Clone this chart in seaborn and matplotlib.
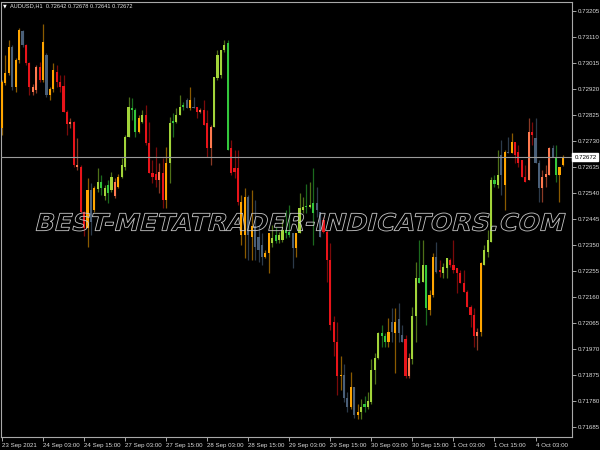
import numpy as np
import pandas as pd
import matplotlib
matplotlib.use("Agg")
import matplotlib.pyplot as plt
import seaborn as sns
from matplotlib.textpath import TextPath
from matplotlib.patches import PathPatch
from matplotlib.font_manager import FontProperties
from matplotlib.transforms import Affine2D, IdentityTransform, blended_transform_factory

symbol = "AUDUSD,H1"
watermark = "BEST-METATRADER-INDICATORS.COM"

opens = [
    0.72778, 0.72942, 0.72979, 0.73074, 0.72928, 0.73026, 0.73132, 0.73081, 0.73015, 0.72928,
    0.72917, 0.73001, 0.72953, 0.73045, 0.72899, 0.72921, 0.72983, 0.72946, 0.72932, 0.72837,
    0.72793, 0.72800, 0.72644, 0.72636, 0.72472, 0.72414, 0.72552, 0.72480, 0.72556, 0.72582,
    0.72560, 0.72542, 0.72552, 0.72582, 0.72563, 0.72600, 0.72636, 0.72746, 0.72851, 0.72844,
    0.72764, 0.72800, 0.72826, 0.72724, 0.72614, 0.72611, 0.72589, 0.72614, 0.72516, 0.72651,
    0.72797, 0.72800, 0.72826, 0.72855, 0.72880, 0.72851, 0.72855, 0.72855, 0.72837, 0.72844,
    0.72797, 0.72706, 0.72782, 0.72961, 0.72972, 0.73063, 0.73088, 0.72706, 0.72618, 0.72633,
    0.72509, 0.72388, 0.72527, 0.72381, 0.72421, 0.72381, 0.72352, 0.72308, 0.72323, 0.72377,
    0.72367, 0.72370, 0.72370, 0.72396, 0.72388, 0.72396, 0.72341, 0.72396, 0.72480, 0.72490,
    0.72490, 0.72469, 0.72505, 0.72472, 0.72443, 0.72399, 0.72297, 0.72068, 0.71995, 0.71871,
    0.71878, 0.71794, 0.71758, 0.71831, 0.71732, 0.71740, 0.71761, 0.71758, 0.71776, 0.71896,
    0.71940, 0.72031, 0.72017, 0.71998, 0.72035, 0.72071, 0.72031, 0.72024, 0.72006, 0.71871,
    0.71933, 0.72090, 0.72232, 0.72217, 0.72279, 0.72115, 0.72170, 0.72308, 0.72254, 0.72250,
    0.72268, 0.72297, 0.72279, 0.72268, 0.72250, 0.72213, 0.72181, 0.72126, 0.72097, 0.72017,
    0.72035, 0.72279, 0.72326, 0.72363, 0.72574, 0.72571, 0.72607, 0.72571, 0.72691, 0.72687,
    0.72727, 0.72691, 0.72662, 0.72600, 0.72589, 0.72764, 0.72742, 0.72651, 0.72560, 0.72600,
    0.72607, 0.72706, 0.72672, 0.72607, 0.72642,
]
highs = [
    0.72953, 0.73045, 0.73099, 0.73081, 0.73034, 0.73143, 0.73136, 0.73085, 0.73019, 0.72939,
    0.73008, 0.73019, 0.73157, 0.73052, 0.72928, 0.73015, 0.73008, 0.72972, 0.72972, 0.72844,
    0.72815, 0.72804, 0.72742, 0.72644, 0.72476, 0.72596, 0.72578, 0.72567, 0.72633, 0.72607,
    0.72571, 0.72589, 0.72618, 0.72596, 0.72611, 0.72669, 0.72753, 0.72891, 0.72888, 0.72851,
    0.72826, 0.72844, 0.72862, 0.72800, 0.72662, 0.72709, 0.72651, 0.72669, 0.72709, 0.72819,
    0.72833, 0.72851, 0.72899, 0.72873, 0.72888, 0.72928, 0.72891, 0.72855, 0.72851, 0.72880,
    0.72844, 0.72789, 0.72964, 0.73063, 0.73063, 0.73099, 0.73099, 0.72735, 0.72698, 0.72698,
    0.72534, 0.72560, 0.72534, 0.72552, 0.72516, 0.72425, 0.72396, 0.72334, 0.72396, 0.72425,
    0.72418, 0.72399, 0.72443, 0.72480, 0.72498, 0.72396, 0.72396, 0.72542, 0.72527, 0.72574,
    0.72582, 0.72633, 0.72563, 0.72472, 0.72454, 0.72407, 0.72359, 0.72090, 0.72071, 0.71944,
    0.71915, 0.71813, 0.71889, 0.71831, 0.71769, 0.71787, 0.71798, 0.71813, 0.71933, 0.71958,
    0.72035, 0.72060, 0.72031, 0.72086, 0.72122, 0.72122, 0.72141, 0.72060, 0.72024, 0.71958,
    0.72126, 0.72290, 0.72370, 0.72370, 0.72279, 0.72188, 0.72323, 0.72363, 0.72297, 0.72286,
    0.72305, 0.72305, 0.72370, 0.72268, 0.72261, 0.72261, 0.72188, 0.72133, 0.72122, 0.72049,
    0.72290, 0.72352, 0.72407, 0.72600, 0.72607, 0.72698, 0.72735, 0.72698, 0.72746, 0.72760,
    0.72727, 0.72716, 0.72662, 0.72644, 0.72815, 0.72800, 0.72815, 0.72662, 0.72625, 0.72644,
    0.72709, 0.72716, 0.72716, 0.72636, 0.72678,
]
lows = [
    0.72753, 0.72935, 0.72972, 0.72917, 0.72910, 0.73015, 0.73074, 0.73008, 0.72899, 0.72899,
    0.72906, 0.72946, 0.72946, 0.72891, 0.72880, 0.72910, 0.72928, 0.72910, 0.72837, 0.72753,
    0.72778, 0.72636, 0.72625, 0.72469, 0.72385, 0.72345, 0.72388, 0.72472, 0.72545, 0.72534,
    0.72516, 0.72505, 0.72545, 0.72523, 0.72560, 0.72596, 0.72625, 0.72746, 0.72808, 0.72746,
    0.72760, 0.72797, 0.72716, 0.72614, 0.72578, 0.72563, 0.72542, 0.72487, 0.72487, 0.72578,
    0.72746, 0.72797, 0.72826, 0.72844, 0.72851, 0.72844, 0.72851, 0.72815, 0.72833, 0.72789,
    0.72672, 0.72644, 0.72782, 0.72953, 0.72961, 0.73055, 0.72698, 0.72607, 0.72596, 0.72498,
    0.72352, 0.72305, 0.72297, 0.72297, 0.72297, 0.72290, 0.72279, 0.72305, 0.72250, 0.72345,
    0.72359, 0.72359, 0.72363, 0.72377, 0.72381, 0.72268, 0.72308, 0.72396, 0.72469, 0.72469,
    0.72487, 0.72352, 0.72454, 0.72381, 0.72396, 0.72217, 0.72042, 0.71944, 0.71805, 0.71823,
    0.71776, 0.71740, 0.71751, 0.71721, 0.71714, 0.71714, 0.71740, 0.71751, 0.71769, 0.71842,
    0.71933, 0.71977, 0.71977, 0.71980, 0.71995, 0.71885, 0.71995, 0.71995, 0.71867, 0.71867,
    0.71915, 0.71998, 0.72213, 0.72217, 0.72060, 0.72097, 0.72162, 0.72250, 0.72235, 0.72232,
    0.72232, 0.72272, 0.72250, 0.72177, 0.72213, 0.72181, 0.72126, 0.72053, 0.71977, 0.71969,
    0.72017, 0.72279, 0.72308, 0.72363, 0.72563, 0.72560, 0.72534, 0.72480, 0.72687, 0.72687,
    0.72651, 0.72636, 0.72600, 0.72582, 0.72589, 0.72716, 0.72651, 0.72509, 0.72509, 0.72563,
    0.72607, 0.72672, 0.72582, 0.72509, 0.72641,
]
closes = [
    0.72946, 0.72979, 0.73074, 0.72928, 0.73026, 0.73136, 0.73081, 0.73015, 0.72928, 0.72910,
    0.73001, 0.72953, 0.73092, 0.72899, 0.72921, 0.72990, 0.72946, 0.72928, 0.72837, 0.72793,
    0.72800, 0.72644, 0.72636, 0.72472, 0.72414, 0.72552, 0.72436, 0.72560, 0.72582, 0.72560,
    0.72531, 0.72571, 0.72600, 0.72531, 0.72600, 0.72644, 0.72746, 0.72855, 0.72844, 0.72764,
    0.72815, 0.72826, 0.72724, 0.72614, 0.72600, 0.72589, 0.72618, 0.72516, 0.72651, 0.72797,
    0.72804, 0.72826, 0.72855, 0.72862, 0.72851, 0.72880, 0.72851, 0.72837, 0.72844, 0.72789,
    0.72706, 0.72782, 0.72964, 0.73045, 0.73063, 0.73081, 0.72698, 0.72614, 0.72633, 0.72509,
    0.72388, 0.72527, 0.72388, 0.72421, 0.72345, 0.72334, 0.72308, 0.72323, 0.72396, 0.72359,
    0.72388, 0.72388, 0.72407, 0.72407, 0.72399, 0.72341, 0.72396, 0.72487, 0.72490, 0.72494,
    0.72498, 0.72505, 0.72480, 0.72381, 0.72399, 0.72297, 0.72060, 0.71995, 0.71871, 0.71878,
    0.71794, 0.71761, 0.71831, 0.71732, 0.71743, 0.71761, 0.71769, 0.71780, 0.71896, 0.71940,
    0.72031, 0.72017, 0.71998, 0.72035, 0.72071, 0.72031, 0.72079, 0.71998, 0.71871, 0.71940,
    0.72090, 0.72232, 0.72213, 0.72279, 0.72122, 0.72170, 0.72308, 0.72254, 0.72257, 0.72272,
    0.72305, 0.72279, 0.72261, 0.72250, 0.72213, 0.72181, 0.72126, 0.72097, 0.72017, 0.72035,
    0.72286, 0.72334, 0.72370, 0.72589, 0.72589, 0.72607, 0.72680, 0.72691, 0.72687, 0.72727,
    0.72680, 0.72651, 0.72600, 0.72582, 0.72764, 0.72753, 0.72651, 0.72560, 0.72600, 0.72611,
    0.72706, 0.72672, 0.72607, 0.72636, 0.72672,
]
# indicator colour state of each candle
states = list(
    "OOOBOOBRRS" "SROBOORRRR" "SRSRROBOYG" "YGYSOYYYGG" "OYRRRRSROY"
    "GYYGBOBRSR" "RSYYYYGRRR" "OOBOBBBOOY" "GYYGGBOYYG" "YGBBRRRRRO"
    "BBOBOYGYYY" "YGGOBOBBRS" "YYGYGOOBRY" "YRRRRRRRRS" "OYYYGYBOBO"
    "RRRRSRBBSS" "SBGOO"
)
time_labels = ["23 Sep 2021", "24 Sep 03:00", "24 Sep 15:00", "27 Sep 03:00", "27 Sep 15:00",
               "28 Sep 03:00", "28 Sep 15:00", "29 Sep 03:00", "29 Sep 15:00", "30 Sep 03:00",
               "30 Sep 15:00", "1 Oct 03:00", "1 Oct 15:00", "4 Oct 03:00"]
label_bars = [0, 12, 24, 36, 48, 60, 72, 84, 96, 108, 120, 132, 144, 156]
price_ticks = [0.73205, 0.73110, 0.73015, 0.72920, 0.72825, 0.72730, 0.72635, 0.72540,
               0.72445, 0.72350, 0.72255, 0.72160, 0.72065, 0.71970, 0.71875, 0.71780, 0.71685]

body_palette = {"O": "#ffa500", "B": "#4a5f78", "R": "#e8141a", "S": "#ff7a4f",
                "Y": "#a2d43a", "G": "#34c83c"}
wick_palette = {"O": "#8a5a00", "B": "#2c3a4a", "R": "#7a0a0a", "S": "#8a3a26",
                "Y": "#4f7018", "G": "#1b6a1e"}

df = pd.DataFrame({"open": opens, "high": highs, "low": lows, "close": closes, "state": states})
df["bar"] = np.arange(len(df))
df["bottom"] = df[["open", "close"]].min(axis=1)
df["body"] = (df["close"] - df["open"]).abs().clip(lower=0.00004)

sns.set_theme(style="dark", rc={
    "figure.facecolor": "black", "axes.facecolor": "black", "savefig.facecolor": "black",
    "axes.edgecolor": "#a8a8a8", "axes.linewidth": 0.8, "axes.grid": False,
    "xtick.color": "#a8a8a8", "ytick.color": "#a8a8a8",
    "xtick.bottom": True, "ytick.right": True,
})
plt.rcParams["font.family"] = ["Liberation Sans", "DejaVu Sans"]

fig = plt.figure(figsize=(6, 4.5), dpi=100)
ax = fig.add_axes([1 / 600, 13 / 450, 571 / 600, 435 / 450])

ax.vlines(df["bar"], df["low"], df["high"],
          colors=[wick_palette[s] for s in df["state"]], linewidth=0.9, zorder=2)
ax.bar(df["bar"], df["body"], bottom=df["bottom"], width=0.62,
       color=[body_palette[s] for s in df["state"]], linewidth=0, zorder=3)

last = closes[-1]
ax.axhline(last, color="#9a9a9a", linewidth=0.8, zorder=4)

ax.set_xlim(-1 / 3.42, 570 / 3.42)
ax.set_ylim(0.71650, 0.73238)

ax.set_xticks(label_bars)
ax.set_xticklabels(time_labels)
for t in ax.get_xticklabels():
    t.set_horizontalalignment("left")
ax.tick_params(axis="x", direction="out", length=3, width=0.7, pad=1.5,
               labelsize=4.4, labelcolor="#dcdcdc")

ax.yaxis.tick_right()
ax.set_yticks(price_ticks)
ax.set_yticklabels([f"{p:.5f}" for p in price_ticks])
ax.tick_params(axis="y", direction="out", length=3, width=0.7, pad=1.5,
               labelsize=4.4, labelcolor="#dcdcdc", left=False, right=True)
for sp in ax.spines.values():
    sp.set_visible(True)
    sp.set_color("#a8a8a8")
    sp.set_linewidth(0.8)

trans = blended_transform_factory(ax.transAxes, ax.transData)
ax.text(1.004, last, f"{last:.5f}", transform=trans, ha="left", va="center",
        fontsize=4.4, color="black", zorder=6,
        bbox=dict(boxstyle="square,pad=0.3", fc="white", ec="white"))

fig.text(3 / 600, 1 - 6 / 450, "\u25bc", fontsize=3.5, color="white", va="center",
         family="DejaVu Sans")
fig.text(10 / 600, 1 - 6 / 450,
         f"{symbol}  {opens[-1]:.5f} {highs[-1]:.5f} {lows[-1]:.5f} {closes[-1]:.5f}",
         fontsize=4.1, color="#e6e6e6", va="center", ha="left")

fp = FontProperties(family="DejaVu Sans", weight="bold")
tp = TextPath((0, 0), watermark, size=1, prop=fp)
bb = tp.get_extents()
x0, x1, ytop, ybot = 38, 563, 213, 231
tr = (Affine2D().translate(-bb.x0, -bb.y0)
      .scale((x1 - x0) / bb.width, (ybot - ytop) / bb.height)
      .skew_deg(14, 0).translate(x0 - 2, 450 - ybot))
wm = PathPatch(tr.transform_path(tp), facecolor="none", edgecolor="#c8c8c8",
               linewidth=0.6, transform=IdentityTransform(), zorder=10)
fig.add_artist(wm)

fig.savefig("out.png", dpi=100, facecolor="black")
